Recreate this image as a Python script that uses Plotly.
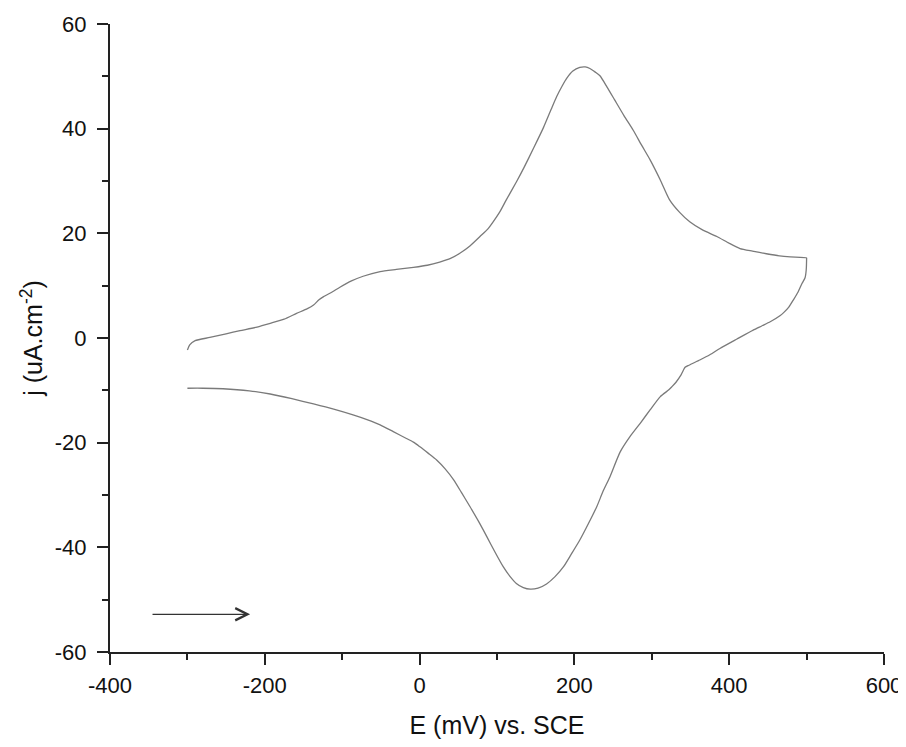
import plotly.graph_objects as go

# =========================
# Data: cyclic voltammogram
# =========================
# forward scan, -300 -> 500 mV
E_fwd = [-300, -297, -290, -271, -250, -232, -210, -193, -175, -159, -145, -137,
         -130, -124, -113, -103, -88, -73, -51, -30, -8, 10, 26, 40, 52, 65, 78,
         88, 95, 104, 112, 125, 135, 147, 160, 170, 177, 184, 190, 198, 207, 214,
         220, 227, 233, 242, 252, 264, 276, 287, 298, 311, 323, 336, 349, 366,
         384, 400, 414, 430, 448, 465, 479, 500]
j_fwd = [-2.3, -1.3, -0.5, 0.1, 0.8, 1.4, 2.1, 2.8, 3.6, 4.7, 5.6, 6.3,
         7.3, 7.9, 8.8, 9.7, 10.9, 11.8, 12.7, 13.1, 13.5, 13.9, 14.5, 15.2, 16.2,
         17.6, 19.4, 20.8, 22.2, 24.2, 26.4, 29.8, 32.6, 36.2, 40.2, 43.7, 46.1,
         48.1, 49.6, 51.0, 51.7, 51.8, 51.5, 50.8, 50.1, 48.0, 45.5, 42.5, 39.7,
         36.8, 34.0, 30.2, 26.4, 24.0, 22.2, 20.6, 19.4, 18.1, 17.1, 16.6, 16.1,
         15.7, 15.5, 15.3]

# reverse scan, 500 -> -300 mV
E_rev = [500, 499.5, 498, 494, 489, 483, 477, 470, 466, 453, 442, 431, 410, 388,
         375, 362, 348, 343, 338, 331, 326, 322, 311, 298, 285, 272, 259, 246,
         237, 229, 218, 207, 196, 186, 175, 164, 153, 143, 134, 125, 117, 108,
         97, 87, 76, 65, 54, 44, 33, 22, 11, 0.5, -8, -17, -34, -51, -68, -86,
         -111, -137, -165, -193, -220, -254, -280, -300]
j_rev = [15.2, 13.0, 11.5, 10.4, 8.8, 7.3, 5.9, 4.8, 4.3, 3.1, 2.3, 1.5, -0.2,
         -2.0, -3.2, -4.2, -5.2, -5.6, -7.0, -8.5, -9.3, -9.9, -11.2, -13.7,
         -16.3, -18.8, -21.8, -26.5, -29.3, -32.2, -35.5, -38.6, -41.3, -43.7,
         -45.6, -47.0, -47.8, -48.0, -47.7, -46.9, -45.6, -43.7, -40.8, -38.0,
         -35.0, -32.2, -29.5, -27.1, -25.0, -23.3, -22.0, -20.8, -19.9, -19.2,
         -17.9, -16.6, -15.6, -14.7, -13.6, -12.6, -11.6, -10.7, -10.1, -9.7,
         -9.6, -9.6]

# scan direction arrow (start, end) in data units
arrow_E = [-347, -219]
arrow_j = -52.8

# tick labels (plain hyphen minus, like the original)
x_ticks = [-400, -200, 0, 200, 400, 600]
y_ticks = [-60, -40, -20, 0, 20, 40, 60]

FONT = "Liberation Sans, Arial, sans-serif"

fig = go.Figure()
fig.add_trace(go.Scatter(
    x=E_fwd + E_rev,
    y=j_fwd + j_rev,
    mode="lines",
    line=dict(color="#7a7a7a", width=1.3, shape="spline", smoothing=0.6),
    showlegend=False,
    hoverinfo="skip",
))

fig.add_annotation(
    x=arrow_E[1], y=arrow_j, ax=arrow_E[0], ay=arrow_j,
    xref="x", yref="y", axref="x", ayref="y",
    text="", showarrow=True,
    arrowhead=5, arrowsize=2, arrowwidth=1.2, arrowcolor="#333333",
)

axis_common = dict(
    showline=True, linecolor="#222222", linewidth=2,
    ticks="outside", ticklen=11, tickwidth=2, tickcolor="#222222",
    showgrid=False, zeroline=False, mirror=False,
    tickfont=dict(family=FONT, size=22, color="#111111"),
    automargin=False, ticklabeloverflow="allow",
)

fig.update_xaxes(
    range=[-400, 600],
    tickvals=x_ticks, ticktext=[str(v) for v in x_ticks],
    minor=dict(ticks="outside", ticklen=6, tickwidth=2, tickcolor="#222222",
               tick0=-400, dtick=100),
    title=dict(text="E (mV) vs. SCE", font=dict(family=FONT, size=25, color="#111111"), standoff=36),
    ticklabelstandoff=2,
    **axis_common,
)
fig.update_yaxes(
    range=[-60, 60],
    tickvals=y_ticks, ticktext=[str(v) for v in y_ticks],
    minor=dict(ticks="outside", ticklen=6, tickwidth=2, tickcolor="#222222",
               tick0=-60, dtick=10),
    title=dict(text="j (uA.cm<sup>-2</sup>)", font=dict(family=FONT, size=25, color="#111111"), standoff=5),
    ticklabelstandoff=6,
    **axis_common,
)

fig.update_layout(
    width=896, height=731,
    margin=dict(l=102, r=20, t=16, b=87),
    paper_bgcolor="white", plot_bgcolor="white",
    font=dict(family=FONT),
)

fig.write_html("out.html")
